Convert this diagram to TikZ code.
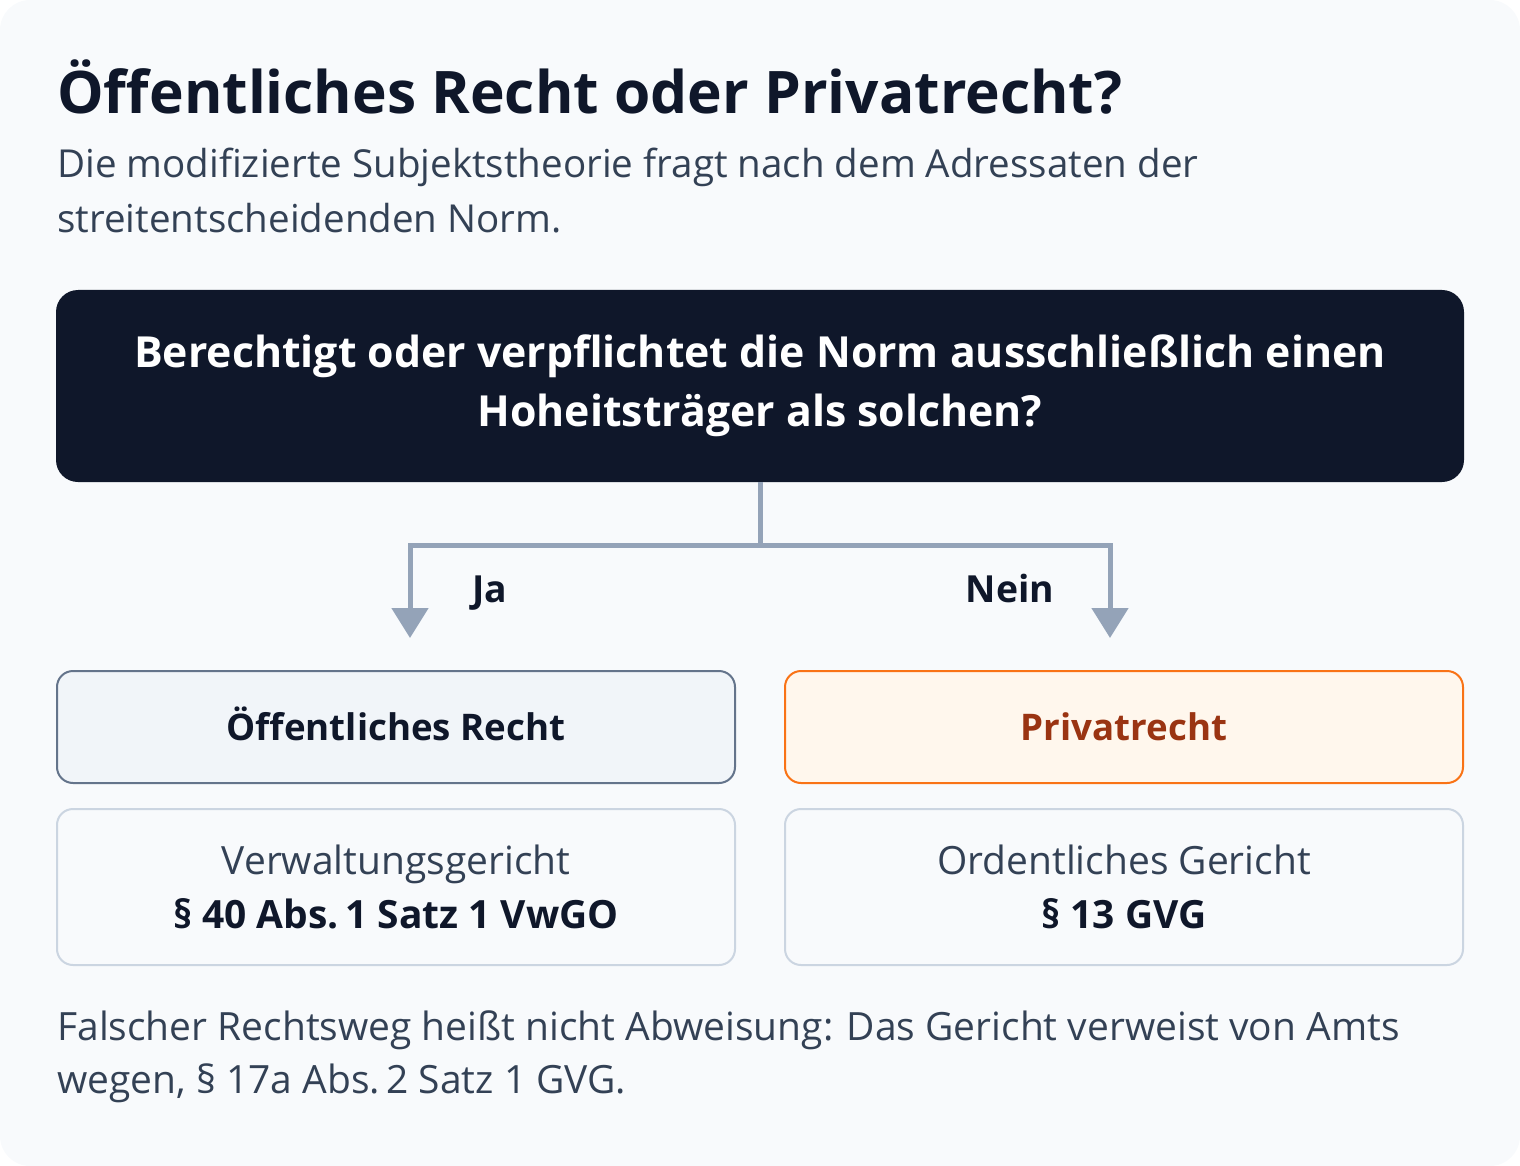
\documentclass[tikz,border=0pt]{standalone}
\usepackage{fontspec}
\setmainfont{Open Sans}
\usetikzlibrary{arrows.meta}
\definecolor{bgc}{HTML}{F8FAFC}
\definecolor{darkc}{HTML}{0F172A}
\definecolor{slatec}{HTML}{334155}
\definecolor{connc}{HTML}{94A3B8}
\definecolor{lfill}{HTML}{F1F5F9}
\definecolor{ldraw}{HTML}{64748B}
\definecolor{rfill}{HTML}{FFF7ED}
\definecolor{rdraw}{HTML}{F97316}
\definecolor{rtext}{HTML}{9A3412}
\definecolor{lowdraw}{HTML}{CBD5E1}
\begin{document}
\begin{tikzpicture}[x=0.75pt,y=-0.75pt,
  conn/.style={draw=connc, line width=3.75pt},
  tipstyle/.style={-{Triangle[width=27pt,length=22.5pt]}},
  qbox/.style={fill=darkc, rounded corners=16.5pt, minimum width=1056pt, minimum height=144pt,
    inner sep=0pt, align=center, text=white, font=\fontsize{32.1}{44.25}\selectfont\bfseries},
  resbox/.style={rounded corners=12pt, line width=1.5pt, minimum width=508.5pt, minimum height=84pt,
    inner sep=0pt, text height=20pt, text depth=0pt, font=\fontsize{27.5}{34}\selectfont\bfseries},
  courtbox/.style={draw=lowdraw, fill=bgc, rounded corners=12pt, line width=1.5pt, minimum width=508.5pt,
    minimum height=117pt, inner sep=0pt, align=center, text=slatec, font=\fontsize{29.2}{40.5}\selectfont},
  lbl/.style={anchor=base, inner sep=0pt, text=darkc, font=\fontsize{28}{34}\selectfont\bfseries},
  para/.style={anchor=base west, inner sep=0pt, align=left, text=slatec}
]
\useasboundingbox (0,0) rectangle (1520,1166);
\fill[bgc, rounded corners=22.5pt] (0,0) rectangle (1520,1166);

\node[anchor=base west, inner sep=0pt, text=darkc, font=\fontsize{44}{50}\selectfont\bfseries] (title) at (57,114) {Öffentliches Recht oder Privatrecht?};
\node[para, font=\fontsize{28.9}{41.25}\selectfont] (sub) at (57,233) {Die modifizierte Subjektstheorie fragt nach dem Adressaten der\\streitentscheidenden Norm.};

\node[qbox] (q) at (760,386) {Berechtigt oder verpflichtet die Norm ausschließlich einen\\Hoheitsträger als solchen?};

\coordinate (split) at (760,545);
\coordinate (tipL) at (410,638);
\coordinate (tipR) at (1110,638);
\draw[conn] (q.south) -- (split);
\draw[conn, tipstyle] (split) -| (tipL);
\draw[conn, tipstyle] (split) -| (tipR);

\node[lbl] (ja) at (490,602) {Ja};
\node[lbl] (nein) at (1010,602) {Nein};

\node[resbox, draw=ldraw, fill=lfill, text=darkc] (oer) at (396,727) {Öffentliches Recht};
\node[resbox, draw=rdraw, fill=rfill, text=rtext] (pr) at (1124,727) {Privatrecht};

\node[courtbox] (vg) at (396,887) {Verwaltungsgericht\\{\color{darkc}\bfseries § 40 Abs.\,1 Satz 1 VwGO}};
\node[courtbox] (og) at (1124,887) {Ordentliches Gericht\\{\color{darkc}\bfseries § 13 GVG}};

\node[para, font=\fontsize{29.2}{39.75}\selectfont] (foot) at (57,1093) {Falscher Rechtsweg heißt nicht Abweisung: Das Gericht verweist von Amts\\wegen, § 17a Abs.\,2 Satz 1 GVG.};
\end{tikzpicture}
\end{document}
